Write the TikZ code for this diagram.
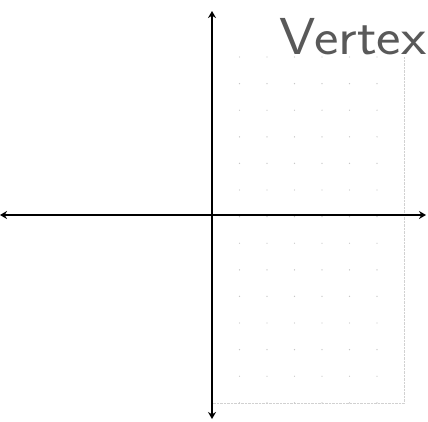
\documentclass[tikz,border=0pt]{standalone}
\usetikzlibrary{arrows.meta}
\begin{document}
\begin{tikzpicture}[x=1pt,y=-1pt]
				\useasboundingbox (0,0) rectangle (428,421);
				\coordinate (O) at (212,215);
				\coordinate (top) at (212,11);
				\coordinate (bottom) at (212,419);
				\coordinate (left) at (0,215);
				\coordinate (right) at (426,215);
				\coordinate (gridNE) at (404.5,57);
				\coordinate (gridSE) at (404.5,403);
				\coordinate (gridSW) at (212,403);
				\draw[black!18,densely dotted] (gridNE)--(gridSE)--(gridSW);
				\foreach \i in {1,...,6} \foreach \j in {0,...,13} \fill[black!22] (212+27.5*\i,57+26.6*\j) circle (0.7);
				\draw[line width=1.6pt,{Stealth[length=7pt,width=8pt]}-{Stealth[length=7pt,width=8pt]}] (left)--(right);
				\draw[line width=1.6pt,{Stealth[length=7pt,width=8pt]}-{Stealth[length=7pt,width=8pt]}] (top)--(bottom);
				\node[anchor=base west,inner sep=0,text=black!65,font=\fontsize{52}{52}\selectfont\sffamily] (title) at (279,54) {\scalebox{1.12}[1]{Vertex}};
			\end{tikzpicture}
\end{document}
